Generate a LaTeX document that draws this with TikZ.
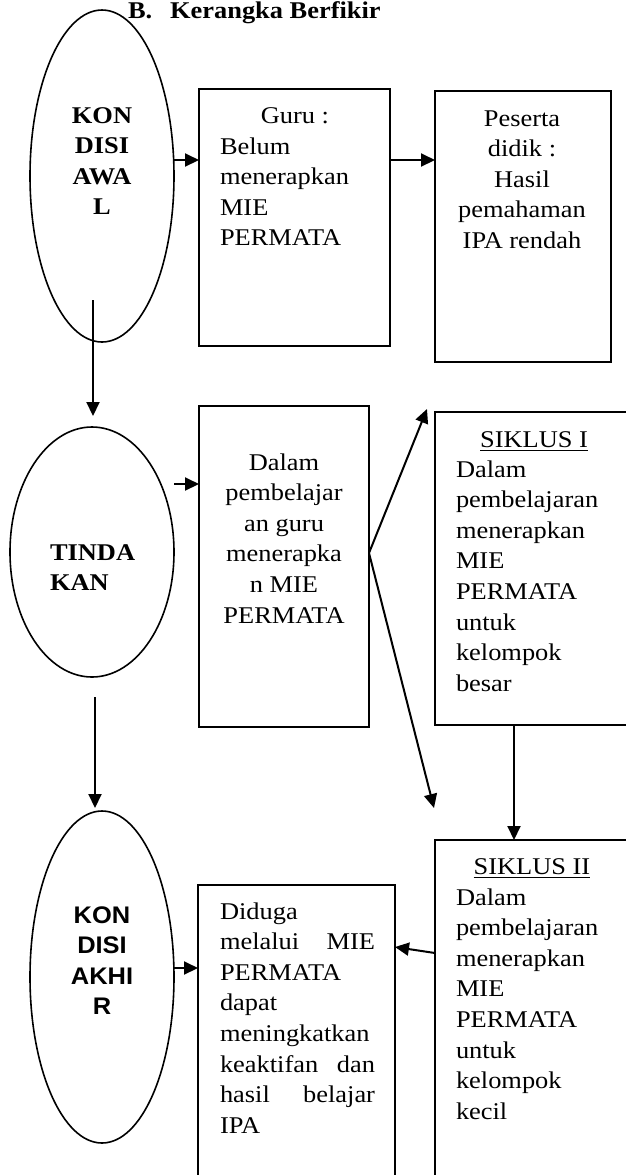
\documentclass[tikz,border=0pt]{standalone}
\usepackage{fontspec}
\setmainfont{Liberation Serif}[FakeStretch=1.1]
\newfontfamily\sansfam{Liberation Sans}[FakeStretch=1.06]
\usetikzlibrary{arrows.meta,shapes.geometric}
\newcommand{\txtsize}{\fontsize{12}{15.3}\selectfont}
\begin{document}
\begin{tikzpicture}[x=0.5pt,y=-0.5pt,
  box/.style={draw,line width=1pt,rectangle,inner sep=0pt,outer sep=0pt},
  oval/.style={draw,line width=0.8pt,ellipse,inner sep=0pt,outer sep=0pt},
  arr/.style={line width=1pt,-{Triangle[length=7pt,width=6.5pt]}},
  txt/.style={inner sep=0pt,outer sep=0pt,font=\txtsize},
  boldtxt/.style={inner sep=0pt,outer sep=0pt,font=\txtsize\bfseries},
  sanstxt/.style={inner sep=0pt,outer sep=0pt,font=\txtsize\sansfam\bfseries}]
\useasboundingbox (0,0) rectangle (626,1175);
\fill[white] (0,0) rectangle (626,1175);
\clip (0,0) rectangle (626,1175);

% title
\node[boldtxt,anchor=base west] (title) at (128,18) {B.\hspace*{9pt}Kerangka Berfikir};

% ellipses
\node[oval,minimum width=72pt,minimum height=166pt] (e1) at (102,176) {};
\node[oval,minimum width=82pt,minimum height=125pt] (e2) at (92,552) {};
\node[oval,minimum width=72pt,minimum height=166pt] (e3) at (102,977) {};

% boxes
\node[box,minimum width=95.5pt,minimum height=128.5pt] (b1) at (294.5,217.5) {};
\node[box,minimum width=88pt,minimum height=135.5pt] (b2) at (523,226.5) {};
\node[box,minimum width=85pt,minimum height=160.5pt] (b3) at (284,566.5) {};
\node[box,minimum width=107.5pt,minimum height=156.5pt] (b4) at (542.5,568.5) {};
\node[box,minimum width=107.5pt,minimum height=180pt] (b5) at (542.5,1020) {};
\node[box,minimum width=98.5pt,minimum height=157.5pt] (b6) at (296.5,1042.5) {};

% texts
\node[boldtxt,anchor=north,align=center] (e1t) at (102,101.6) {\strut KON\\DISI\\AWA\\L};
\node[txt,anchor=north] (b1ta) at (295,101.6) {\strut Guru :};
\node[txt,anchor=north west,align=left] (b1tb) at (220,132.6) {\strut Belum\\menerapkan\\MIE\\PERMATA};
\node[txt,anchor=north,align=center] (b2t) at (522,104.6) {\strut Peserta\\didik :\\Hasil\\pemahaman\\IPA rendah};
\node[boldtxt,anchor=north west,align=left] (e2t) at (50,538.6) {\strut TINDA\\KAN};
\node[txt,anchor=north,align=center] (b3t) at (284,448.6) {\strut Dalam\\pembelajar\\an guru\\menerapka\\n MIE\\PERMATA};
\node[txt,anchor=north] (b4ta) at (534,425.6) {\strut\underline{SIKLUS I}};
\node[txt,anchor=north west,align=left] (b4tb) at (456,455.6) {\strut Dalam\\pembelajaran\\menerapkan\\MIE\\PERMATA\\untuk\\kelompok\\besar};
\node[sanstxt,anchor=north,align=center] (e3t) at (102,901.6) {\strut KON\\DISI\\AKHI\\R};
\node[txt,anchor=north west,text width=77.5pt,align=left] (b6t) at (220,897.6) {\strut Diduga\\melalui\hfill MIE\\PERMATA\\dapat\\meningkatkan\\keaktifan\hfill dan\\hasil\hfill belajar\\IPA};
\node[txt,anchor=north] (b5ta) at (532,852.6) {\strut\underline{SIKLUS II}};
\node[txt,anchor=north west,align=left] (b5tb) at (456,883.6) {\strut Dalam\\pembelajaran\\menerapkan\\MIE\\PERMATA\\untuk\\kelompok\\kecil};

% connectors
\coordinate (a1) at (0,160);
\draw[arr] (e1.east |- a1) -- (b1.west |- a1);
\draw[arr] (b1.east |- a1) -- (b2.west |- a1);
\coordinate (v1) at (93,300);
\coordinate (v1e) at (93,416);
\draw[arr] (v1) -- (v1e);
\coordinate (a2) at (0,484);
\draw[arr] (e2.east |- a2) -- (b3.west |- a2);
\coordinate (v2) at (95,697);
\coordinate (v2e) at (95,808);
\draw[arr] (v2) -- (v2e);
\coordinate (br) at (369,553);
\coordinate (t1) at (427,409);
\coordinate (t2) at (434,808);
\draw[arr] (br) -- (t1);
\draw[arr] (br) -- (t2);
\coordinate (v3) at (514,0);
\draw[arr] (b4.south -| v3) -- (b5.north -| v3);
\coordinate (a3) at (0,953);
\coordinate (a4) at (0,947);
\draw[arr] (b5.west |- a3) -- (b6.east |- a4);
\coordinate (a5) at (0,968);
\draw[arr] (e3.east |- a5) -- (b6.west |- a5);
\end{tikzpicture}
\end{document}
